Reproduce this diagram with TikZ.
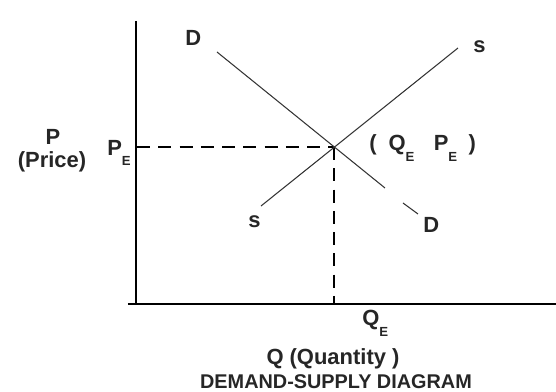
\documentclass[tikz,border=0pt]{standalone}
\usepackage{fontspec}
\setmainfont{Liberation Sans}
\usepackage{tikz}
\usetikzlibrary{positioning,calc}
\newcommand{\subE}{\raisebox{-6pt}{\fontsize{7.5pt}{8pt}\bfseries\selectfont E}}

\begin{document}
\begin{tikzpicture}[x=0.02cm,y=-0.02cm,
    every node/.style={font=\fontsize{12.5pt}{14pt}\bfseries\selectfont,
        inner sep=0pt, text=black!85},
    axis/.style={line width=1.1pt, black},
    curve/.style={line width=0.6pt, black!80},
    guide/.style={line width=1.1pt, black, dash pattern=on 7.5pt off 4.6pt},
  ]
  \useasboundingbox (0,0) rectangle (556,392);

  % axes
  \coordinate (top) at (136,21);
  \coordinate (orig) at (136,304);
  \coordinate (xl) at (128,304);
  \coordinate (xr) at (556,304);
  \draw[axis] (top) -- (orig);
  \draw[axis] (xl) -- (xr);

  % equilibrium
  \coordinate (eq) at (334,147);
  \coordinate (pe) at (137,147);
  \coordinate (qe) at (334,304);
  \draw[guide] (pe) -- (eq);
  \draw[guide] (eq) -- (qe);

  % demand and supply
  \coordinate (d1) at (217,52);
  \coordinate (d2) at (385,188);
  \coordinate (d3) at (403,203);
  \coordinate (d4) at (418,214);
  \coordinate (s1) at (261,206);
  \coordinate (s2) at (458,48);
  \foreach \a/\b in {d1/d2,d3/d4,s1/s2}
  \draw[curve] (\a) -- (\b);

  % labels
  \node[anchor=base west] (dtop) at (185,46) {D};
  \node[anchor=base west] (dbot) at (423,233) {D};
  \node[anchor=base west] (stop) at (473,52) {s};
  \node[anchor=base west] (sbot) at (248,228) {s};
  \node[anchor=base] (plet) at (53,145) {P};
  \node[anchor=base] (pname) at (52,168) {(Price)};
  \node[anchor=base west] (plab) at (107,155) {P\subE};
  \node[anchor=base west] (eqlab) at (369,151)
    {(\hspace{6.8pt}Q\subE\hspace{11pt}P\subE\hspace{6.5pt})};
  \node[anchor=base west] (qlab) at (362,326) {Q\subE};
  \node[anchor=base] (qax) at (333,365) {Q (Quantity )};
  \node[anchor=base, font=\fontsize{11.3pt}{13pt}\bfseries\selectfont]
    (title) at (336,389) {DEMAND-SUPPLY DIAGRAM};
\end{tikzpicture}
\end{document}
